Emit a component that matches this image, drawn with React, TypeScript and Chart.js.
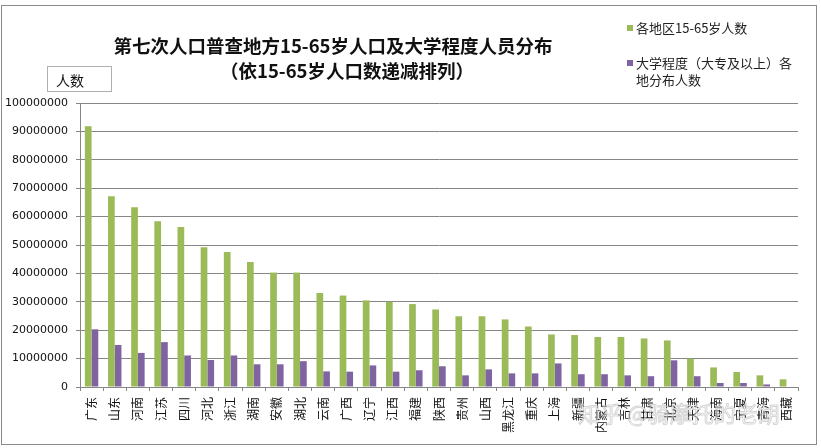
import React, { useEffect, useRef } from "react";
import { Chart, registerables } from "chart.js";

Chart.register(...registerables);

const provinces: string[] = [
  "广东", "山东", "河南", "江苏", "四川", "河北", "浙江", "湖南", "安徽", "湖北",
  "云南", "广西", "辽宁", "江西", "福建", "陕西", "贵州", "山西", "黑龙江", "重庆",
  "上海", "新疆", "内蒙古", "吉林", "甘肃", "北京", "天津", "海南", "宁夏", "青海", "西藏",
];

const workingAgePop: number[] = [
  91800000, 67200000, 63300000, 58400000, 56300000, 49200000, 47500000, 44000000, 40300000, 40300000,
  33100000, 32200000, 30500000, 30000000, 29200000, 27300000, 24900000, 24900000, 23800000, 21300000,
  18500000, 18300000, 17600000, 17600000, 17100000, 16400000, 10000000, 6900000, 5300000, 4100000, 2700000,
];

const collegePop: (number | null)[] = [
  20300000, 14800000, 12000000, 15800000, 11100000, 9500000, 11100000, 8000000, 8000000, 9100000,
  5500000, 5400000, 7600000, 5400000, 5900000, 7300000, 4100000, 6200000, 4800000, 4800000,
  8300000, 4500000, 4500000, 4100000, 3800000, 9400000, 3800000, 1400000, 1400000, 900000, null,
];

const yTicks: number[] = [0, 10000000, 20000000, 30000000, 40000000, 50000000, 60000000, 70000000, 80000000, 90000000, 100000000];

const seriesNames: string[] = ["各地区15-65岁人数", "大学程度（大专及以上）各地分布人数"];
const titleLines: string[] = ["第七次人口普查地方15-65岁人口及大学程度人员分布", "（依15-65岁人口数递减排列）"];
const yAxisName = "人数";

const GREEN = "#9BBB59";
const PURPLE = "#8064A2";
const GRID = "#868686";
const CJK = '"Noto Sans CJK SC", "Noto Sans", sans-serif';

export default function App() {
  const canvasRef = useRef<HTMLCanvasElement | null>(null);

  useEffect(() => {
    if (!canvasRef.current) return;
    const chart = new Chart(canvasRef.current, {
      type: "bar",
      data: {
        labels: provinces,
        datasets: [
          {
            label: seriesNames[0],
            data: workingAgePop,
            backgroundColor: GREEN,
            barPercentage: 1,
            categoryPercentage: 0.58,
          },
          {
            label: seriesNames[1],
            data: collegePop,
            backgroundColor: PURPLE,
            barPercentage: 1,
            categoryPercentage: 0.58,
          },
        ],
      },
      options: {
        animation: false,
        responsive: false,
        layout: { padding: { left: 0, top: 103, right: 23, bottom: 0 } },
        plugins: {
          legend: { display: false },
          title: { display: false },
          tooltip: { enabled: false },
        },
        scales: {
          x: {
            grid: {
              display: true,
              drawOnChartArea: false,
              drawTicks: true,
              tickLength: 4,
              color: GRID,
              offset: true,
            },
            border: { display: true, color: GRID, width: 1 },
            ticks: {
              autoSkip: false,
              minRotation: 90,
              maxRotation: 90,
              padding: 6,
              color: "#111",
              font: { family: CJK, size: 12 },
            },
            afterFit: (scale: any) => {
              scale.height = 61;
            },
          },
          y: {
            min: 0,
            max: 100000000,
            afterBuildTicks: (scale: any) => {
              scale.ticks = yTicks.map((v) => ({ value: v }));
            },
            grid: {
              color: GRID,
              drawTicks: true,
              tickLength: 4,
              lineWidth: 1,
            },
            border: { display: true, color: GRID, width: 1 },
            ticks: {
              padding: 8,
              color: "#111",
              font: { family: '"DejaVu Sans", Verdana, sans-serif', size: 11 },
              callback: (v: any) => String(v),
            },
            afterFit: (scale: any) => {
              scale.width = 80;
            },
          },
        },
      },
    });
    return () => chart.destroy();
  }, []);

  const legendText: React.CSSProperties = {
    position: "absolute",
    fontFamily: CJK,
    fontSize: 13,
    color: "#222",
    lineHeight: "17px",
    whiteSpace: "nowrap",
  };
  const swatch = (color: string, top: number): React.CSSProperties => ({
    position: "absolute",
    left: 627,
    top,
    width: 6,
    height: 6,
    background: color,
  });

  return (
    <div style={{ position: "absolute", left: 0, top: 0, width: 821, height: 448, background: "#fff", overflow: "hidden" }}>
      <canvas ref={canvasRef} width={821} height={448} style={{ position: "absolute", left: 0, top: 0, width: 821, height: 448 }} />
      <div style={{ position: "absolute", left: 1, top: 5, width: 814, height: 438, border: "1px solid #8a8a8a", pointerEvents: "none" }} />
      <div
        style={{
          position: "absolute",
          left: 93,
          top: 33,
          width: 480,
          textAlign: "center",
          fontFamily: CJK,
          fontWeight: 700,
          fontSize: 18.5,
          lineHeight: "25px",
          color: "#111",
          whiteSpace: "nowrap",
        }}
      >
        {titleLines[0]}
      </div>
      <div
        style={{
          position: "absolute",
          left: 107,
          top: 58,
          width: 480,
          textAlign: "center",
          fontFamily: CJK,
          fontWeight: 700,
          fontSize: 18.5,
          lineHeight: "25px",
          color: "#111",
          whiteSpace: "nowrap",
        }}
      >
        {titleLines[1]}
      </div>
      <div
        style={{
          position: "absolute",
          left: 47,
          top: 66,
          width: 65,
          height: 26,
          border: "1px solid #b0b0b0",
          fontFamily: CJK,
          fontSize: 14,
          lineHeight: "26px",
          color: "#111",
          paddingLeft: 8,
          boxSizing: "border-box",
        }}
      >
        {yAxisName}
      </div>
      <div style={swatch(GREEN, 25)} />
      <div style={{ ...legendText, left: 636, top: 19 }}>{seriesNames[0]}</div>
      <div style={swatch(PURPLE, 60)} />
      <div style={{ ...legendText, left: 636, top: 54 }}>
        大学程度（大专及以上）各
        <br />
        地分布人数
      </div>
      <div
        style={{
          position: "absolute",
          left: 578,
          top: 396,
          fontFamily: CJK,
          fontSize: 22,
          color: "rgba(255,255,255,0.5)",
          WebkitTextStroke: "1px rgba(150,150,150,0.4)",
          whiteSpace: "nowrap",
          pointerEvents: "none",
        }}
      >
        知乎 @骑摩托的老胡
      </div>
    </div>
  );
}
